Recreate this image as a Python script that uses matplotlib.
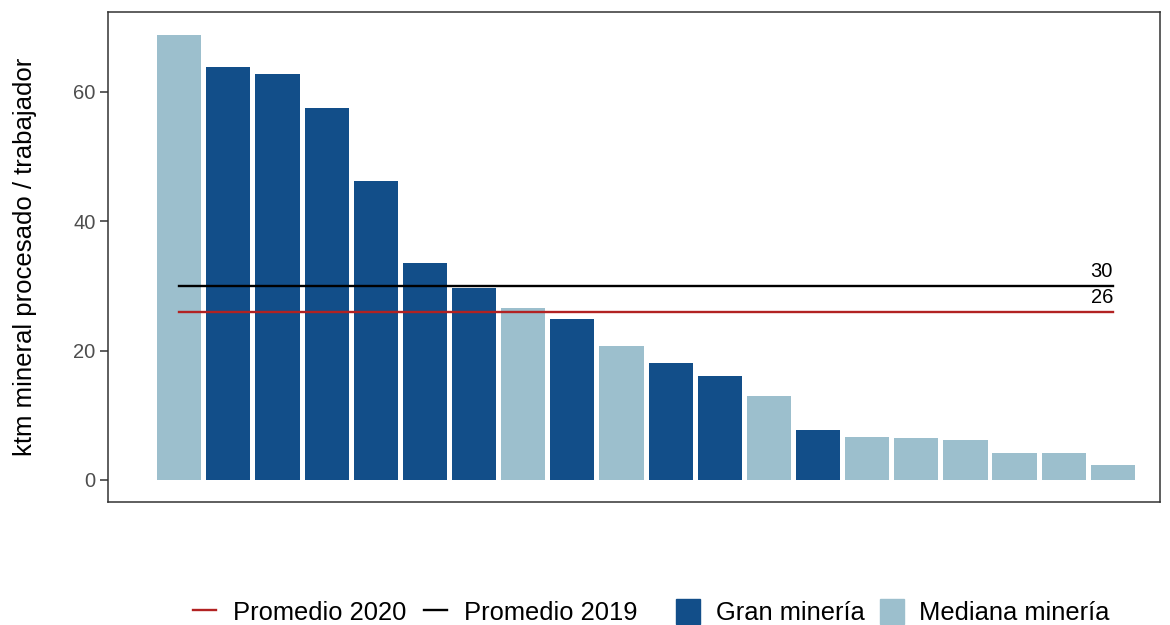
import numpy as np
import matplotlib
matplotlib.use('Agg')
import matplotlib.pyplot as plt
from matplotlib.patches import Patch
from matplotlib.lines import Line2D

plt.rcParams['font.family'] = ['Liberation Sans', 'DejaVu Sans']

# data
values = [68.8, 63.8, 62.7, 57.5, 46.2, 33.6, 29.6, 26.5, 24.8, 20.7,
          18.1, 16.1, 12.9, 7.8, 6.7, 6.5, 6.2, 4.2, 4.2, 2.3]
group = ['M', 'G', 'G', 'G', 'G', 'G', 'G', 'M', 'G', 'M',
         'G', 'G', 'M', 'G', 'M', 'M', 'M', 'M', 'M', 'M']
prom_2019 = 30
prom_2020 = 26

col_gran = '#124e89'
col_med = '#9cbfcd'
col_2020 = '#b22222'
col_2019 = '#000000'

x = np.arange(1, len(values) + 1)
colors = [col_gran if g == 'G' else col_med for g in group]

fig = plt.figure(figsize=(11.7, 6.25), dpi=100)
ax = fig.add_axes([0.0923, 0.1968, 0.8992, 0.784])

ax.bar(x, values, width=0.9, color=colors, zorder=1)
ax.plot([x[0], x[-1]], [prom_2019, prom_2019], color=col_2019, lw=1.7, zorder=2)
ax.plot([x[0], x[-1]], [prom_2020, prom_2020], color=col_2020, lw=1.7, zorder=2)
ax.text(x[-1], prom_2019 + 0.8, str(prom_2019), ha='right', va='bottom', fontsize=14.5)
ax.text(x[-1], prom_2020 + 0.8, str(prom_2020), ha='right', va='bottom', fontsize=14.5)

ax.set_xlim(-0.45, 20.96)
ax.set_ylim(-3.4, 72.3)
ax.set_xticks([])
ax.set_yticks([0, 20, 40, 60])
ax.tick_params(axis='y', labelsize=14.5, labelcolor='#4d4d4d', color='#333333',
               length=5.5, width=1.1, pad=3.5)
ax.set_ylabel('ktm mineral procesado / trabajador', fontsize=18.5, labelpad=26)
for s in ax.spines.values():
    s.set_color('#333333')
    s.set_linewidth(1.1)

# two legends like ggplot: lines and fills
line_handles = [Line2D([], [], color=col_2020, lw=1.7),
                Line2D([], [], color=col_2019, lw=1.7)]
line_labels = ['Promedio 2020', 'Promedio 2019']
fill_handles = [Patch(color=col_gran), Patch(color=col_med)]
fill_labels = ['Gran minería', 'Mediana minería']

fig.legend(line_handles, line_labels, loc='center left', bbox_to_anchor=(0.165, 0.0208),
           ncol=2, frameon=False, fontsize=18.4, handlelength=0.9, handleheight=1.15,
           handletextpad=0.67, columnspacing=0.67, borderpad=0, borderaxespad=0)
fig.legend(fill_handles, fill_labels, loc='center left', bbox_to_anchor=(0.5778, 0.0208),
           ncol=2, frameon=False, fontsize=18.4, handlelength=0.95, handleheight=1.15,
           handletextpad=0.6, columnspacing=0.6, borderpad=0, borderaxespad=0)

plt.savefig('out.png', dpi=100)
